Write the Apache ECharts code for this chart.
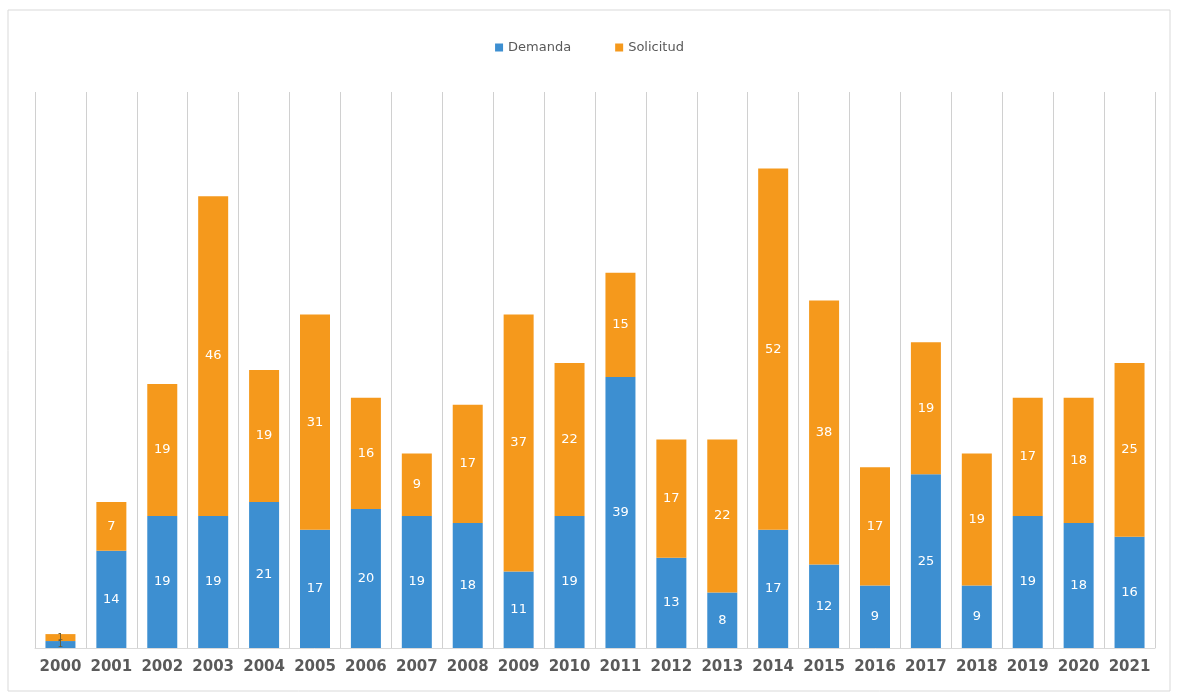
<!DOCTYPE html>
<html>
<head>
<meta charset="utf-8">
<script src="https://cdn.jsdelivr.net/npm/echarts@6/dist/echarts.min.js"></script>
<style>html,body{margin:0;padding:0;background:#fff}#c{width:1179px;height:698px}</style>
</head>
<body>
<div id="c"></div>
<script>
const years = ['2000','2001','2002','2003','2004','2005','2006','2007','2008','2009','2010','2011','2012','2013','2014','2015','2016','2017','2018','2019','2020','2021'];
const demanda = [1,14,19,19,21,17,20,19,18,11,19,39,13,8,17,12,9,25,9,19,18,16];
const solicitud = [1,7,19,46,19,31,16,9,17,37,22,15,17,22,52,38,17,19,19,17,18,25];

const chart = echarts.init(document.getElementById('c'));
function labelCfg(){
  return {show:true,position:'inside',color:'#ffffff',fontSize:13,fontFamily:'DejaVu Sans',
    formatter:p=>String(p.value)};
}
function mkData(arr){
  return arr.map((v,i)=> i===0 ? {value:v,label:{color:'#6b5a2e',fontSize:9}} : v);
}
chart.setOption({
  animation:false,
  backgroundColor:'#ffffff',
  graphic:[{type:'rect',shape:{x:8,y:10,width:1162,height:681},style:{fill:'none',stroke:'#d9d9d9',lineWidth:1},silent:true}],
  legend:{top:36,left:'center',itemWidth:8,itemHeight:8,itemGap:44,icon:'rect',
    textStyle:{color:'#595959',fontSize:13,fontFamily:'DejaVu Sans'},
    data:['Demanda','Solicitud']},
  grid:{left:35,right:24,top:92,bottom:50,containLabel:false},
  xAxis:{type:'category',data:years,
    axisLine:{show:true,lineStyle:{color:'#d9d9d9'}},
    axisTick:{show:false},
    splitLine:{show:true,interval:0,lineStyle:{color:'#d0d0d0',width:1}},
    axisLabel:{interval:0,color:'#5a5a5a',fontSize:15,fontWeight:'bold',fontFamily:'DejaVu Sans',margin:12}},
  yAxis:{type:'value',min:0,max:80,show:false,splitLine:{show:false}},
  series:[
    {name:'Demanda',type:'bar',stack:'t',barWidth:30,data:mkData(demanda),
      itemStyle:{color:'#3d8fd1'},label:labelCfg()},
    {name:'Solicitud',type:'bar',stack:'t',barWidth:30,data:mkData(solicitud),
      itemStyle:{color:'#f5991c'},label:labelCfg()}
  ]
});
</script>
</body>
</html>
